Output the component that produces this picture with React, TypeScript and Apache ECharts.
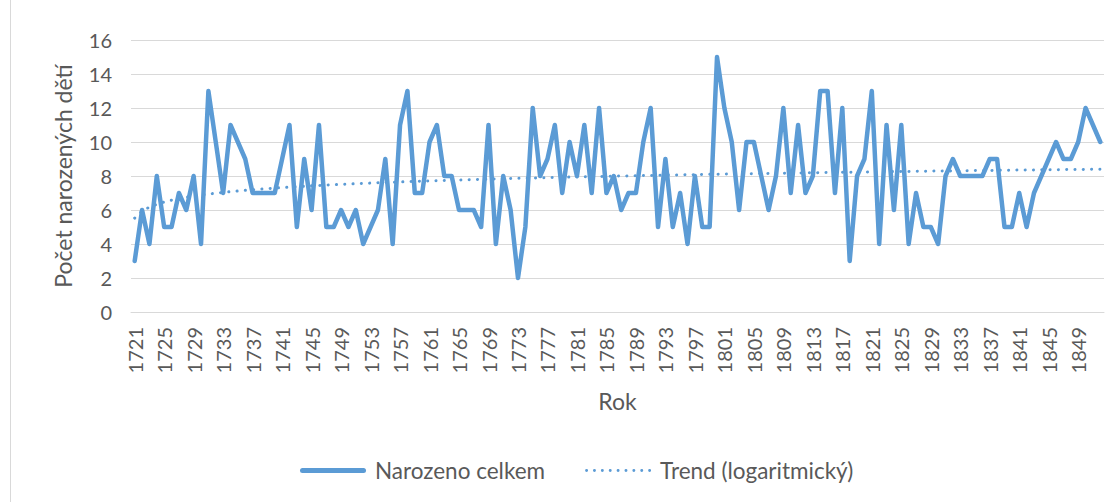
import React, { useEffect, useRef } from "react";
import * as echarts from "echarts";

const firstYear = 1721;
const births: number[] = [
  3, 6, 4, 8, 5, 5, 7, 6, 8, 4, 13, 10, 7, 11, 10, 9, 7, 7, 7, 7,
  9, 11, 5, 9, 6, 11, 5, 5, 6, 5, 6, 4, 5, 6, 9, 4, 11, 13, 7, 7,
  10, 11, 8, 8, 6, 6, 6, 5, 11, 4, 8, 6, 2, 5, 12, 8, 9, 11, 7, 10,
  8, 11, 7, 12, 7, 8, 6, 7, 7, 10, 12, 5, 9, 5, 7, 4, 8, 5, 5, 15,
  12, 10, 6, 10, 10, 8, 6, 8, 12, 7, 11, 7, 8, 13, 13, 7, 12, 3, 8, 9,
  13, 4, 11, 6, 11, 4, 7, 5, 5, 4, 8, 9, 8, 8, 8, 8, 9, 9, 5, 5,
  7, 5, 7, 8, 9, 10, 9, 9, 10, 12, 11, 10,
];
const years: string[] = births.map((_, i) => String(firstYear + i));

const seriesName = "Narozeno celkem";
const trendName = "Trend (logaritmický)";
const xTitle = "Rok";
const yTitle = "Počet narozených dětí";

// Logarithmic least-squares trend (as Excel computes it): y = a ln(x) + b, x = 1..n
function logTrend(vals: number[]): number[] {
  const n = vals.length;
  const L = vals.map((_, i) => Math.log(i + 1));
  const mL = L.reduce((s, v) => s + v, 0) / n;
  const mY = vals.reduce((s, v) => s + v, 0) / n;
  let num = 0;
  let den = 0;
  for (let i = 0; i < n; i++) {
    num += (L[i] - mL) * (vals[i] - mY);
    den += (L[i] - mL) * (L[i] - mL);
  }
  const a = num / den;
  const b = mY - a * mL;
  return L.map((l) => a * l + b);
}

const BLUE = "#5B9BD5";
const TEXT = "#595959";
const GRID = "#D9D9D9";
const FONT = "Lato, 'Open Sans', sans-serif";

function dotsPath(): string {
  let d = "";
  for (let k = 0; k < 9; k++) {
    const cx = 1.5 + k * 8;
    d += `M${cx - 1.5},1.5 A1.5,1.5 0 1 0 ${cx + 1.5},1.5 A1.5,1.5 0 1 0 ${cx - 1.5},1.5 Z `;
  }
  return "path://" + d.trim();
}

export default function App() {
  const ref = useRef<HTMLDivElement>(null);
  useEffect(() => {
    document.body.style.margin = "0";
    if (!ref.current) return;
    const chart = echarts.init(ref.current, undefined, { renderer: "svg" });
    const trend = logTrend(births);
    chart.setOption({
      animation: false,
      backgroundColor: "#ffffff",
      textStyle: { fontFamily: FONT },
      grid: { left: 131, right: 16, top: 40, bottom: 190, containLabel: false },
      legend: {
        left: 295,
        top: 454,
        itemWidth: 66,
        itemHeight: 5,
        itemGap: 40,
        symbolKeepAspect: true,
        textStyle: { fontSize: 22.5, color: TEXT, fontFamily: FONT, padding: [0, 0, 0, 4] },
        data: [
          {
            name: seriesName,
            icon: "path://M2.5,0 L63.5,0 A2.5,2.5 0 0 1 63.5,5 L2.5,5 A2.5,2.5 0 0 1 2.5,0 Z",
            itemStyle: { color: BLUE, borderWidth: 0 },
          },
          {
            name: trendName,
            icon: dotsPath(),
            itemStyle: { color: BLUE, borderWidth: 0 },
          },
        ],
      },
      xAxis: {
        type: "category",
        data: years,
        boundaryGap: true,
        name: xTitle,
        nameLocation: "middle",
        nameGap: 77,
        nameTextStyle: { fontSize: 23, color: TEXT, fontFamily: FONT },
        axisLine: { lineStyle: { color: GRID, width: 1 } },
        axisTick: { show: false },
        axisLabel: {
          interval: 3,
          rotate: 90,
          margin: 15,
          fontSize: 20,
          color: TEXT,
          fontFamily: FONT,
        },
      },
      yAxis: {
        type: "value",
        min: 0,
        max: 16,
        interval: 2,
        name: yTitle,
        nameLocation: "middle",
        nameGap: 57,
        nameTextStyle: { fontSize: 23, color: TEXT, fontFamily: FONT },
        axisLine: { show: false },
        axisTick: { show: false },
        axisLabel: { margin: 19, fontSize: 20, color: TEXT, fontFamily: FONT },
        splitLine: { lineStyle: { color: GRID, width: 1 } },
      },
      series: [
        {
          name: seriesName,
          type: "line",
          data: births,
          symbol: "none",
          lineStyle: { color: BLUE, width: 4.5, join: "round", cap: "round" },
          itemStyle: { color: BLUE },
          z: 3,
        },
        {
          name: trendName,
          type: "line",
          data: trend,
          symbol: "none",
          lineStyle: { color: BLUE, width: 3, type: [0.1, 8.2], cap: "round" },
          itemStyle: { color: BLUE },
          z: 2,
        },
      ],
      graphic: [
        {
          type: "line",
          shape: { x1: 10.5, y1: 0, x2: 10.5, y2: 502 },
          style: { stroke: GRID, lineWidth: 1 },
          silent: true,
        },
      ],
    });
    return () => chart.dispose();
  }, []);
  return <div ref={ref} style={{ width: 1120, height: 502 }} />;
}
